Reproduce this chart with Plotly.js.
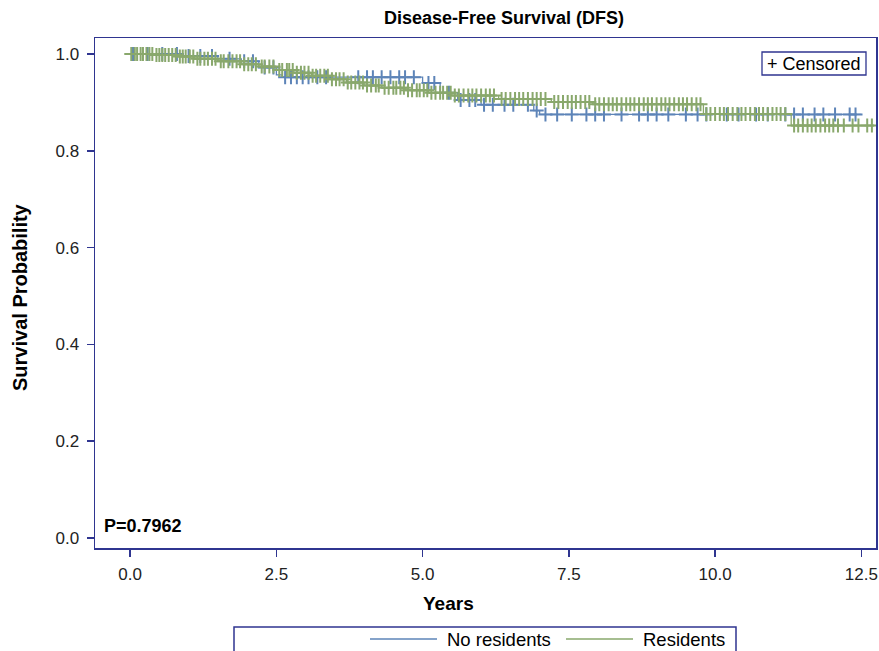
<!DOCTYPE html>
<html>
<head>
<meta charset="utf-8">
<script src="https://cdn.plot.ly/plotly-3.0.1.min.js"></script>
<style>html,body{margin:0;padding:0;background:#fff;}#chart{width:879px;height:651px;}</style>
</head>
<body>
<div id="chart"></div>
<script>
// ---- Data ----
const seriesNames = ["No residents", "Residents"];

// Kaplan-Meier step function: No residents
const noResTimes = [0, 0.9, 1.5, 1.9, 2.2, 2.5, 2.6, 5.0, 5.3, 5.6, 6.0, 6.9, 7.0];
const noResSurv  = [1.0, 0.996, 0.99, 0.985, 0.972, 0.957, 0.952, 0.94, 0.92, 0.905, 0.895, 0.883, 0.875];
const noResEnd = 12.5;
const noResCensor = [0.05, 0.3, 0.55, 0.8, 1.0, 1.2, 1.4, 1.7, 1.95, 2.1, 2.3, 2.45, 2.65, 2.75, 2.85,
  2.95, 3.05, 3.2, 3.35, 3.9, 4.05, 4.15, 4.3, 4.45, 4.6, 4.7, 4.85, 5.1, 5.2, 5.45, 5.65, 5.8, 5.9,
  6.05, 6.2, 6.4, 6.55, 6.8, 6.95, 7.1, 7.3, 7.55, 7.8, 7.95, 8.1, 8.4, 8.7, 8.85, 9.0, 9.2, 9.5,
  9.7, 9.85, 10.2, 10.4, 10.7, 10.9, 11.2, 11.35, 11.5, 11.7, 11.85, 12.05, 12.3, 12.4];

// Kaplan-Meier step function: Residents
const resTimes = [0, 0.4, 0.8, 1.1, 1.5, 1.9, 2.2, 2.5, 2.8, 3.1, 3.4, 3.7, 4.0, 4.3, 4.7, 5.1, 5.5, 6.3, 7.2, 7.9, 9.8, 11.3];
const resSurv  = [1.0, 0.998, 0.995, 0.99, 0.985, 0.979, 0.974, 0.967, 0.961, 0.955, 0.948, 0.941, 0.935, 0.93, 0.925, 0.92, 0.914, 0.907, 0.901, 0.896, 0.876, 0.852];
const resEnd = 12.72;
const resCensor = [0.02, 0.08, 0.12, 0.18, 0.22, 0.28, 0.33, 0.38, 0.45, 0.5, 0.55, 0.6, 0.66, 0.72, 0.78,
  0.85, 0.9, 0.95, 1.02, 1.08, 1.15, 1.2, 1.27, 1.33, 1.4, 1.46, 1.55, 1.6, 1.68, 1.75, 1.82, 1.88,
  1.95, 2.02, 2.08, 2.15, 2.25, 2.3, 2.38, 2.45, 2.55, 2.6, 2.68, 2.72, 2.78, 2.85, 2.92, 2.98,
  3.05, 3.12, 3.18, 3.25, 3.32, 3.38, 3.45, 3.52, 3.58, 3.65, 3.72, 3.78, 3.85, 3.92, 3.98, 4.05,
  4.12, 4.2, 4.25, 4.35, 4.42, 4.5, 4.55, 4.62, 4.68, 4.75, 4.82, 4.9, 4.95, 5.02, 5.08, 5.15,
  5.22, 5.3, 5.35, 5.42, 5.48, 5.55, 5.62, 5.7, 5.78, 5.85, 5.92, 6.0, 6.08, 6.15, 6.22, 6.35,
  6.42, 6.5, 6.58, 6.65, 6.72, 6.8, 6.88, 6.95, 7.02, 7.1, 7.25, 7.32, 7.4, 7.48, 7.55, 7.62, 7.7,
  7.78, 7.85, 7.95, 8.02, 8.1, 8.18, 8.25, 8.32, 8.4, 8.48, 8.55, 8.62, 8.7, 8.78, 8.85, 8.92, 9.0,
  9.08, 9.15, 9.22, 9.3, 9.38, 9.45, 9.52, 9.6, 9.68, 9.75, 9.85, 9.92, 10.0, 10.08, 10.15, 10.22,
  10.3, 10.38, 10.45, 10.52, 10.6, 10.68, 10.75, 10.82, 10.9, 10.98, 11.05, 11.12, 11.2, 11.35,
  11.42, 11.5, 11.58, 11.65, 11.72, 11.8, 11.88, 11.95, 12.02, 12.1, 12.2, 12.35, 12.45, 12.6, 12.68];

const xTicks = [0, 2.5, 5, 7.5, 10, 12.5];
const xTickText = ["0.0", "2.5", "5.0", "7.5", "10.0", "12.5"];
const yTicks = [0, 0.2, 0.4, 0.6, 0.8, 1.0];
const yTickText = ["0.0", "0.2", "0.4", "0.6", "0.8", "1.0"];
const pValueText = "P=0.7962";

// ---- Helpers ----
function survAt(times, surv, t) {
  let s = surv[0];
  for (let i = 0; i < times.length; i++) { if (times[i] <= t) s = surv[i]; }
  return s;
}
function stepTrace(times, surv, end, color, name) {
  return { x: times.concat([end]), y: surv.concat([surv[surv.length - 1]]), type: 'scatter', mode: 'lines',
    line: { shape: 'hv', color: color, width: 1.3 }, name: name, showlegend: false, hoverinfo: 'skip' };
}
function censorTrace(cens, times, surv, color, name) {
  return { x: cens, y: cens.map(t => survAt(times, surv, t)), type: 'scatter', mode: 'markers',
    marker: { symbol: 'cross-thin-open', size: 10, line: { color: color, width: 2 }, color: color },
    name: name + ' censored', showlegend: false, hoverinfo: 'skip' };
}

const BLUE = '#5d84b8';
const GREEN = '#89a86c';
const FRAME = '#2f3590';
const FONT = 'Liberation Sans, Arial, sans-serif';

const data = [
  stepTrace(noResTimes, noResSurv, noResEnd, BLUE, seriesNames[0]),
  censorTrace(noResCensor, noResTimes, noResSurv, BLUE, seriesNames[0]),
  stepTrace(resTimes, resSurv, resEnd, GREEN, seriesNames[1]),
  censorTrace(resCensor, resTimes, resSurv, GREEN, seriesNames[1])
];

const W = 879, H = 651;
const ML = 95, MR = 3, MT = 38, MB = 103;
const PW = W - ML - MR, PH = H - MT - MB;
// convert figure pixel positions to plot-area "paper" coordinates
const px = x => (x - ML) / PW, py = y => (H - MB - y) / PH;

const layout = {
  width: W, height: H,
  margin: { l: ML, r: MR, t: MT, b: MB },
  paper_bgcolor: '#fff', plot_bgcolor: '#fff',
  font: { family: FONT, color: '#000' },
  showlegend: false,
  xaxis: {
    range: [-0.6, 12.75], tickvals: xTicks, ticktext: xTickText,
    showgrid: false, zeroline: false, showline: true, mirror: true, linecolor: FRAME, linewidth: 1.5,
    ticks: 'outside', ticklen: 7, tickcolor: FRAME, tickwidth: 1.5, ticklabelstandoff: 3,
    tickfont: { size: 17, family: FONT, color: '#222' }
  },
  yaxis: {
    range: [-0.0207, 1.033], tickvals: yTicks, ticktext: yTickText,
    showgrid: false, zeroline: false, showline: true, mirror: true, linecolor: FRAME, linewidth: 1.5,
    ticks: 'outside', ticklen: 7, tickcolor: FRAME, tickwidth: 1.5, ticklabelstandoff: 4,
    tickfont: { size: 17, family: FONT, color: '#222' }
  },
  shapes: [
    { type: 'rect', xref: 'paper', yref: 'paper', x0: px(762), x1: px(866), y0: py(75), y1: py(52),
      line: { color: FRAME, width: 1.3 }, fillcolor: 'rgba(0,0,0,0)' },
    { type: 'rect', xref: 'paper', yref: 'paper', x0: px(234), x1: px(736), y0: py(660), y1: py(627),
      line: { color: FRAME, width: 1.5 }, fillcolor: 'rgba(0,0,0,0)' },
    { type: 'line', xref: 'paper', yref: 'paper', x0: px(370), x1: px(437), y0: py(639), y1: py(639),
      line: { color: BLUE, width: 1.3 } },
    { type: 'line', xref: 'paper', yref: 'paper', x0: px(566), x1: px(633), y0: py(639), y1: py(639),
      line: { color: GREEN, width: 1.3 } }
  ],
  annotations: [
    { text: '<b>Disease-Free Survival (DFS)</b>', xref: 'paper', yref: 'paper', x: px(504), y: py(18),
      xanchor: 'center', yanchor: 'middle', showarrow: false, font: { size: 18, family: FONT, color: '#000' } },
    { text: '<b>Survival Probability</b>', xref: 'paper', yref: 'paper', x: px(20), y: py(297),
      xanchor: 'center', yanchor: 'middle', textangle: -90, showarrow: false, font: { size: 20, family: FONT, color: '#000' } },
    { text: '<b>Years</b>', xref: 'paper', yref: 'paper', x: px(448), y: py(603),
      xanchor: 'center', yanchor: 'middle', showarrow: false, font: { size: 19, family: FONT, color: '#000' } },
    { text: '<b>' + pValueText + '</b>', xref: 'paper', yref: 'paper', x: px(102), y: py(526),
      xanchor: 'left', yanchor: 'middle', showarrow: false, font: { size: 18, family: FONT, color: '#000' } },
    { text: '+ Censored', xref: 'paper', yref: 'paper', x: px(765), y: py(64),
      xanchor: 'left', yanchor: 'middle', showarrow: false, font: { size: 18, family: FONT, color: '#000' } },
    { text: seriesNames[0], xref: 'paper', yref: 'paper', x: px(445), y: py(639),
      xanchor: 'left', yanchor: 'middle', showarrow: false, font: { size: 18.5, family: FONT, color: '#000' } },
    { text: seriesNames[1], xref: 'paper', yref: 'paper', x: px(641), y: py(639),
      xanchor: 'left', yanchor: 'middle', showarrow: false, font: { size: 18.5, family: FONT, color: '#000' } }
  ]
};

Plotly.newPlot('chart', data, layout, { displayModeBar: false, staticPlot: true });
</script>
</body>
</html>
